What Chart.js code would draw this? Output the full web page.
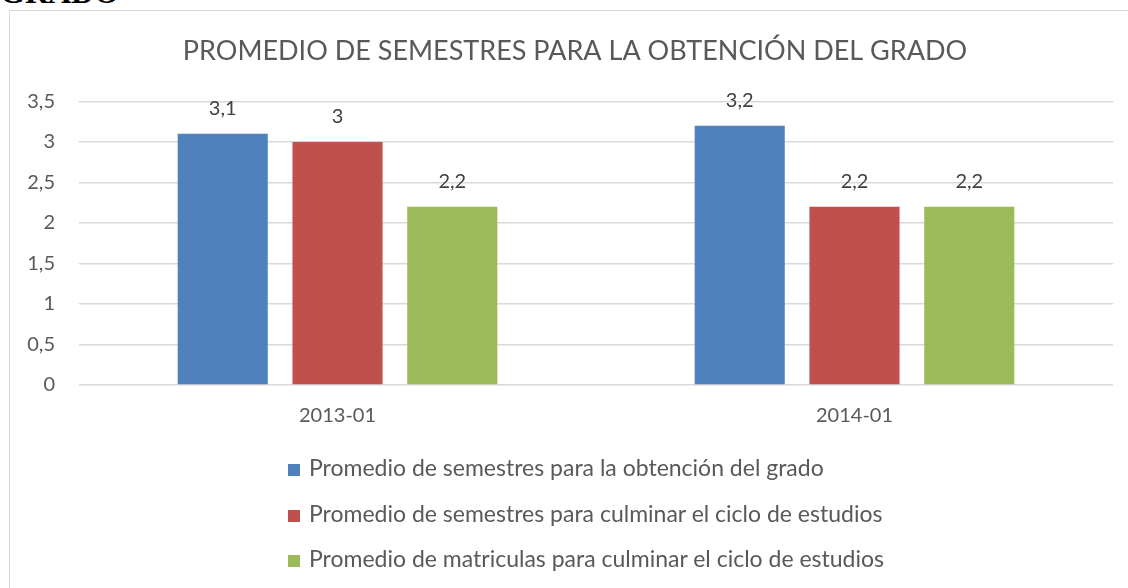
<!DOCTYPE html>
<html lang="es">
<head>
<meta charset="UTF-8">
<title>Promedio de semestres</title>
<script src="https://cdn.jsdelivr.net/npm/chart.js@4.4.0/dist/chart.umd.min.js"></script>
<style>
    html, body { margin: 0; padding: 0; overflow: hidden; background: #fff; width: 1128px; height: 588px; }
    #top-text {
        position: absolute; left: 0; top: -24px;
        font-family: "Liberation Serif", serif; font-weight: bold; font-size: 32px;
        color: #000; line-height: 32px;
    }
    #chart-box {
        position: absolute; left: 9px; top: 10px;
        width: 1140px; height: 600px;
        border-left: 1px solid #d9d9d9; border-top: 1px solid #d9d9d9;
    }
    #chart-wrap { position: absolute; left: 0; top: 0; width: 1130px; height: 578px; }
    #legend {
        position: absolute; left: 278px; top: 434px;
        font-family: Lato, "Open Sans", sans-serif; font-size: 23px; color: #595959;
    }
    #legend .item { height: 45.5px; line-height: 45.5px; white-space: nowrap; }
    #legend .box { display: inline-block; width: 12px; height: 12px; margin-right: 9px; vertical-align: 0px; }
</style>
</head>
<body>
<div id="top-text">GRADO</div>
<div id="chart-box">
    <div id="chart-wrap"><canvas id="chart"></canvas></div>
    <div id="legend"></div>
</div>
<script type="text/javascript">
    const categories = ['2013-01', '2014-01'];
    const seriesNames = [
        'Promedio de semestres para la obtención del grado',
        'Promedio de semestres para culminar el ciclo de estudios',
        'Promedio de matriculas para culminar el ciclo de estudios'
    ];
    const obtencionGrado = [3.1, 3.2];
    const semestresCiclo = [3.0, 2.2];
    const matriculasCiclo = [2.2, 2.2];
    const seriesColors = ['#4f81bd', '#c0504d', '#9bbb59'];

    const fontName = 'Lato, "Open Sans", sans-serif';
    const fmt = v => String(v).replace('.', ',');

    // etiquetas de valor encima de cada barra
    const valueLabels = {
        id: 'valueLabels',
        afterDatasetsDraw(chart) {
            const {ctx} = chart;
            ctx.save();
            ctx.font = '20px ' + fontName;
            ctx.fillStyle = '#404040';
            ctx.textAlign = 'center';
            ctx.textBaseline = 'alphabetic';
            chart.data.datasets.forEach((ds, i) => {
                chart.getDatasetMeta(i).data.forEach((bar, j) => {
                    ctx.fillText(fmt(ds.data[j]), bar.x, bar.y - 19);
                });
            });
            ctx.restore();
        }
    };

    // leyenda en html, una serie por linea
    const htmlLegend = {
        id: 'htmlLegend',
        afterUpdate(chart) {
            const box = document.getElementById('legend');
            box.innerHTML = '';
            chart.options.plugins.legend.labels.generateLabels(chart).forEach(item => {
                const row = document.createElement('div');
                row.className = 'item';
                const sw = document.createElement('span');
                sw.className = 'box';
                sw.style.background = item.fillStyle;
                row.appendChild(sw);
                row.appendChild(document.createTextNode(item.text));
                box.appendChild(row);
            });
        }
    };

    const data = {
        labels: categories,
        datasets: [obtencionGrado, semestresCiclo, matriculasCiclo].map((vals, i) => ({
            label: seriesNames[i],
            data: vals,
            backgroundColor: seriesColors[i],
            borderWidth: 0,
            categoryPercentage: 0.666,
            barPercentage: 0.785
        }))
    };

    const config = {
        type: 'bar',
        data: data,
        options: {
            responsive: true,
            maintainAspectRatio: false,
            animation: false,
            layout: { padding: { left: 0, right: 0, top: 0, bottom: 142 } },
            scales: {
                x: {
                    grid: { display: false, drawTicks: false },
                    border: { display: false },
                    ticks: { color: '#595959', font: { family: fontName, size: 20 }, padding: 19 }
                },
                y: {
                    min: 0, max: 3.5,
                    grid: { color: '#d9d9d9', drawTicks: false, lineWidth: 1.5 },
                    border: { display: false },
                    ticks: {
                        stepSize: 0.5,
                        color: '#595959',
                        font: { family: fontName, size: 20 },
                        padding: 24,
                        callback: v => fmt(v)
                    },
                    afterFit: scale => { scale.width = 69; }
                },
                // eje vacio solo para dejar margen a la derecha
                yRight: {
                    position: 'right',
                    grid: { display: false, drawTicks: false },
                    border: { display: false },
                    ticks: { display: false },
                    afterFit: scale => { scale.width = 27; }
                }
            },
            plugins: {
                title: {
                    display: true,
                    text: 'PROMEDIO DE SEMESTRES PARA LA OBTENCIÓN DEL GRADO',
                    color: '#595959',
                    font: { family: fontName, size: 27, weight: 'normal' },
                    padding: { top: 24, bottom: 34 }
                },
                legend: { display: false },
                tooltip: { enabled: false }
            }
        },
        plugins: [valueLabels, htmlLegend]
    };

    const chart = new Chart(document.getElementById('chart'), config);
</script>
</body>
</html>
